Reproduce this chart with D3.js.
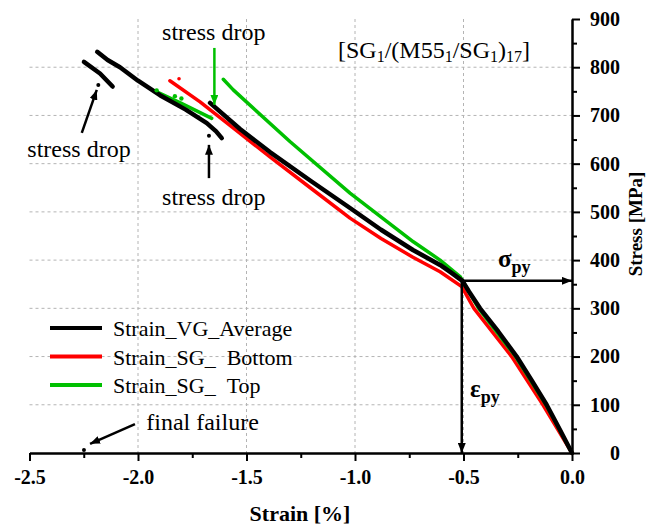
<!DOCTYPE html>
<html>
<head>
<meta charset="utf-8">
<script src="https://cdn.jsdelivr.net/npm/d3@7"></script>
<style>
  html, body { margin: 0; padding: 0; background: #fff; }
  svg { display: block; font-family: "Liberation Serif", "Times New Roman", serif; }
  svg text { font-family: "Liberation Serif", "Times New Roman", serif; }
</style>
</head>
<body>
<svg id="chart" width="647" height="528"></svg>
<script>
// ---- data: strain [%] vs stress [MPa] ----
const strainTicks = [-2.5, -2.0, -1.5, -1.0, -0.5, 0.0];
const strainMinor = [-2.25, -1.75, -1.25, -0.75, -0.25];
const stressTicks = [0, 100, 200, 300, 400, 500, 600, 700, 800, 900];
const stressMinor = [50, 150, 250, 350, 450, 550, 650, 750, 850];
const gridStrain = [-2.0, -1.5, -1.0, -0.5];
const gridStress = [100, 200, 300, 400, 500, 600, 700, 800];

// Strain_VG_Average: loading up to the first stress drop
const avgLoad = [[0,0],[-0.06,52],[-0.117,100],[-0.185,150],[-0.255,200],[-0.34,252],[-0.424,300],
  [-0.475,335],[-0.505,357],[-0.56,375],[-0.608,390],[-0.733,421],[-0.88,463],[-1.023,508],
  [-1.2,563],[-1.392,624],[-1.53,672],[-1.668,726]];
// reloading after the first drop
const avgReload = [[-1.614,653],[-1.64,667],[-1.683,684],[-1.78,712],[-1.899,742],[-2.0,772],
  [-2.083,800],[-2.14,815],[-2.188,832]];
// last branch before final failure
const avgLast = [[-2.117,760],[-2.175,787],[-2.249,811]];
const avgPoints = [[-2.183,763],[-1.673,658],[-2.249,6]];

// Strain_SG_ Bottom
const sgBottom = [[0,0],[-0.134,100],[-0.278,200],[-0.452,300],[-0.508,345],[-0.608,376],
  [-0.733,406],[-0.88,445],[-1.023,487],[-1.2,548],[-1.392,614],[-1.55,670],[-1.714,728],[-1.853,772]];
const sgBottomPoints = [[-1.811,776]];

// Strain_SG_ Top
const sgTop = [[0,0],[-0.12,100],[-0.26,200],[-0.43,300],[-0.516,366],[-0.608,400],[-0.731,438],
  [-1.023,539],[-1.3,646],[-1.561,753],[-1.607,775]];
const sgTopShort = [[-1.914,749],[-1.80,725],[-1.66,694]];
const sgTopPoints = [[-1.914,752],[-1.83,740],[-1.80,735]];

// proportional limit
const yieldStrain = -0.508;
const yieldStress = 357;

// ---- layout ----
const svg = d3.select("#chart");
const x = d3.scaleLinear().domain([-2.5, 0]).range([29.5, 572]);
const y = d3.scaleLinear().domain([0, 900]).range([453, 19]);
const serif = '"Liberation Serif", "Times New Roman", serif';

// arrowheads
const defs = svg.append("defs");
function marker(id, color) {
  defs.append("marker").attr("id", id)
    .attr("viewBox", "0 0 10 8").attr("refX", 10).attr("refY", 4)
    .attr("markerWidth", 10).attr("markerHeight", 8)
    .attr("markerUnits", "userSpaceOnUse").attr("orient", "auto")
    .append("path").attr("d", "M0,0L10,4L0,8Z").attr("fill", color);
}
marker("ahBlack", "#000");
marker("ahGreen", "#00c000");

// grid
const grid = svg.append("g").attr("stroke", "#b4b4b4").attr("stroke-width", 1)
  .attr("stroke-dasharray", "3,3");
grid.selectAll("line.v").data(gridStrain).join("line")
  .attr("x1", d => x(d)).attr("x2", d => x(d)).attr("y1", y(900)).attr("y2", y(0));
grid.selectAll("line.h").data(gridStress).join("line")
  .attr("x1", x(-2.5)).attr("x2", x(0)).attr("y1", d => y(d)).attr("y2", d => y(d));

// axes
const fmt = d => d.toFixed(1);
const xAxis = svg.append("g").attr("transform", `translate(0,${y(0)})`)
  .call(d3.axisBottom(x).tickValues(strainTicks).tickFormat(fmt).tickSize(8).tickSizeOuter(0));
svg.append("g").attr("transform", `translate(0,${y(0)})`)
  .call(d3.axisBottom(x).tickValues(strainMinor).tickFormat("").tickSize(5).tickSizeOuter(0));
const yAxis = svg.append("g").attr("transform", `translate(${x(0)},0)`)
  .call(d3.axisRight(y).tickValues(stressTicks).tickSize(8).tickSizeOuter(0));
svg.append("g").attr("transform", `translate(${x(0)},0)`)
  .call(d3.axisRight(y).tickValues(stressMinor).tickFormat("").tickSize(5).tickSizeOuter(0));

svg.selectAll("g").attr("font-family", null);
svg.selectAll(".domain, .tick line").attr("stroke", "#000").attr("stroke-width", 2);
xAxis.selectAll("text").attr("y", 17).attr("dy", "0.71em")
  .style("font-family", serif).style("font-size", "20px").style("font-weight", "bold").attr("fill", "#000");
yAxis.selectAll("text").attr("x", 48).attr("text-anchor", "end")
  .style("font-family", serif).style("font-size", "20px").style("font-weight", "bold").attr("fill", "#000");

// axis titles
svg.append("text").attr("x", 300).attr("y", 521).attr("text-anchor", "middle")
  .attr("font-size", 22).attr("font-weight", "bold").text("Strain [%]");
svg.append("text").attr("transform", "translate(642,224) rotate(-90)").attr("text-anchor", "middle")
  .attr("font-size", 19).attr("font-weight", "bold").text("Stress [MPa]");

// curves
const lineLin = d3.line().x(d => x(d[0])).y(d => y(d[1]));
const curves = svg.append("g").attr("fill", "none").attr("stroke-linejoin", "round").attr("stroke-linecap", "round");

curves.append("path").attr("d", lineLin(sgBottom)).attr("stroke", "#ff0000").attr("stroke-width", 3.5);
curves.append("path").attr("d", lineLin(sgTop)).attr("stroke", "#00c000").attr("stroke-width", 3.5);
curves.append("path").attr("d", lineLin(sgTopShort)).attr("stroke", "#00c000").attr("stroke-width", 3.5);
[avgLoad, avgReload, avgLast].forEach(seg =>
  curves.append("path").attr("d", lineLin(seg)).attr("stroke", "#000").attr("stroke-width", 4.5));

svg.append("g").selectAll("circle").data(avgPoints).join("circle")
  .attr("cx", d => x(d[0])).attr("cy", d => y(d[1])).attr("r", 2).attr("fill", "#000");
svg.append("g").selectAll("circle").data(sgBottomPoints).join("circle")
  .attr("cx", d => x(d[0])).attr("cy", d => y(d[1])).attr("r", 1.8).attr("fill", "#ff0000");
svg.append("g").selectAll("circle").data(sgTopPoints).join("circle")
  .attr("cx", d => x(d[0])).attr("cy", d => y(d[1])).attr("r", 2.2).attr("fill", "#00c000");

// arrows: yield point guides and annotation pointers
const arrows = [
  { from: [yieldStrain, yieldStress], to: [0, yieldStress], color: "#000", m: "ahBlack" },
  { from: [yieldStrain, yieldStress], to: [yieldStrain, 0], color: "#000", m: "ahBlack" },
  { from: [-1.648, 840], to: [-1.648, 722], color: "#00c000", m: "ahGreen" },
  { from: [-2.259, 664], to: [-2.190, 753], color: "#000", m: "ahBlack" },
  { from: [-1.673, 570], to: [-1.673, 639], color: "#000", m: "ahBlack" },
  { from: [-2.014, 60], to: [-2.221, 19], color: "#000", m: "ahBlack" }
];
svg.append("g").selectAll("line").data(arrows).join("line")
  .attr("x1", d => x(d.from[0])).attr("y1", d => y(d.from[1]))
  .attr("x2", d => x(d.to[0])).attr("y2", d => y(d.to[1]))
  .attr("stroke", d => d.color).attr("stroke-width", 2.5)
  .attr("marker-end", d => `url(#${d.m})`);

// annotations
const notes = [
  { text: "stress drop", at: [-1.889, 857] },
  { text: "stress drop", at: [-2.51, 614] },
  { text: "stress drop", at: [-1.889, 514] },
  { text: "final failure", at: [-1.962, 48] }
];
svg.append("g").selectAll("text").data(notes).join("text")
  .attr("x", d => x(d.at[0])).attr("y", d => y(d.at[1]))
  .attr("font-size", 24).attr("fill", "#000").text(d => d.text);

// sigma_py and epsilon_py labels
function symbol(sym, sub, at, size) {
  const t = svg.append("text").attr("x", x(at[0])).attr("y", y(at[1]))
    .attr("font-weight", "bold").attr("fill", "#000");
  t.append("tspan").attr("font-size", size).text(sym);
  t.append("tspan").attr("font-size", 18).attr("dy", 6).text(sub);
}
symbol("σ", "py", [-0.341, 386], 25);
symbol("ε", "py", [-0.47, 117], 25);

// laminate lay-up
const lay = svg.append("text").attr("x", 338).attr("y", 58).attr("font-size", 24).attr("fill", "#000");
const layParts = [["[SG", 0], ["1", 1], ["/(M55", 0], ["1", 1], ["/SG", 0], ["1", 1], [")", 0], ["17", 1], ["]", 0]];
let prevSub = false;
layParts.forEach(([s, sub]) => {
  const ts = lay.append("tspan").text(s);
  if (sub) { ts.attr("font-size", 16).attr("dy", prevSub ? 0 : 4); }
  else { ts.attr("dy", prevSub ? -4 : 0); }
  prevSub = !!sub;
});

// legend
const legendItems = [
  { name: ["Strain_VG_Average"], color: "#000" },
  { name: ["Strain_SG_", "Bottom"], color: "#ff0000" },
  { name: ["Strain_SG_", "Top"], color: "#00c000" }
];
const lg = svg.append("g");
legendItems.forEach((d, i) => {
  const by = 336 + i * 28.5;
  lg.append("line").attr("x1", 50).attr("x2", 102).attr("y1", by - 8).attr("y2", by - 8)
    .attr("stroke", d.color).attr("stroke-width", 4);
  const t = lg.append("text").attr("x", 113).attr("y", by).attr("font-size", 22).attr("fill", "#000");
  t.append("tspan").text(d.name[0]);
  if (d.name[1]) t.append("tspan").attr("dx", 11).text(d.name[1]);
});
</script>
</body>
</html>
